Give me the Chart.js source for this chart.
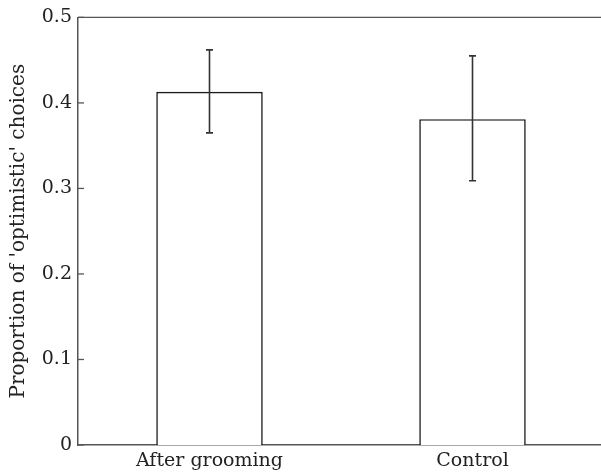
<!DOCTYPE html>
<html>
<head>
<meta charset="utf-8">
<script src="https://cdn.jsdelivr.net/npm/chart.js@4/dist/chart.umd.min.js"></script>
<style>
  html, body { margin:0; padding:0; background:#fff; overflow:hidden; }
  canvas { display:block; }
</style>
</head>
<body>
<canvas id="chart" width="604" height="473"></canvas>
<script>
const categories = ['After grooming', 'Control'];
const means = [0.413, 0.381];
const errLow = [0.365, 0.309];
const errHigh = [0.462, 0.455];
const yTicks = [0, 0.1, 0.2, 0.3, 0.4, 0.5];

const AXIS = '#555';
const INK = '#222';
const FONT = "'DejaVu Serif', serif";

// error bars + inward y ticks + top frame line
const extras = {
  id:'extras',
  afterDatasetsDraw(chart){
    const ctx = chart.ctx, x = chart.scales.x, y = chart.scales.y, a = chart.chartArea;
    ctx.save();
    ctx.strokeStyle = '#333'; ctx.lineWidth = 1.6;
    means.forEach((m,i)=>{
      const cx = x.getPixelForValue(i);
      const yt = y.getPixelForValue(errHigh[i]), yb = y.getPixelForValue(errLow[i]);
      ctx.beginPath();
      ctx.moveTo(cx, yt); ctx.lineTo(cx, yb);
      ctx.moveTo(cx-3.5, yt); ctx.lineTo(cx+3.5, yt);
      ctx.moveTo(cx-3.5, yb); ctx.lineTo(cx+3.5, yb);
      ctx.stroke();
    });
    ctx.strokeStyle = AXIS; ctx.lineWidth = 1.3;
    yTicks.forEach(v=>{
      const py = y.getPixelForValue(v);
      ctx.beginPath(); ctx.moveTo(a.left, py); ctx.lineTo(a.left+6, py); ctx.stroke();
    });
    ctx.beginPath(); ctx.moveTo(a.left, a.top); ctx.lineTo(a.right, a.top); ctx.stroke();
    ctx.restore();
  }
};

new Chart(document.getElementById('chart').getContext('2d'), {
  type:'bar',
  data:{ labels:categories, datasets:[{ data:means, backgroundColor:'#fff', borderColor:'#1a1a1a', borderWidth:1.6, borderSkipped:'bottom', barPercentage:0.405, categoryPercentage:1 }] },
  options:{
    responsive:false, animation:false, devicePixelRatio:1,
    layout:{ padding:{ left:0, top:17, right:0, bottom:0 } },
    plugins:{ legend:{display:false}, tooltip:{enabled:false} },
    scales:{
      x:{
        grid:{ display:false, drawTicks:false },
        border:{ display:true, color:AXIS, width:1.5 },
        ticks:{ color:INK, font:{ family:FONT, size:19 }, padding:5, maxRotation:0 },
        afterFit(s){ s.height = 28; }
      },
      y:{
        min:0, max:0.5,
        grid:{ display:false, drawTicks:false },
        border:{ display:true, color:AXIS, width:1.5 },
        afterBuildTicks(s){ s.ticks = yTicks.map(v=>({value:v})); },
        ticks:{ color:INK, font:{ family:FONT, size:19 }, padding:6, callback:v=> v===0 ? '0' : v.toFixed(1) },
        title:{ display:true, text:"Proportion of 'optimistic' choices", color:INK, font:{ family:FONT, size:20 }, padding:{top:7, bottom:0} },
        afterFit(s){ s.width = 78; }
      }
    }
  },
  plugins:[extras]
});
</script>
</body>
</html>
